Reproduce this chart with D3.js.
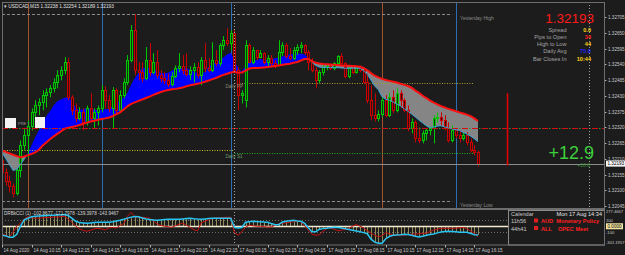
<!DOCTYPE html>
<html>
<head>
<meta charset="utf-8">
<script src="https://cdn.jsdelivr.net/npm/d3@7"></script>
<style>
body { margin: 0; background: #1c1c1c; overflow: hidden; }
text { font-family: "Liberation Sans", Arial, sans-serif; }
.axis-label { font-size: 4.6px; fill: #c8c8c8; }
.info-label { font-size: 5.6px; fill: #a4a4a4; }
.info-value { font-size: 5.6px; font-weight: bold; }
.cal { font-size: 5.6px; }
</style>
</head>
<body>
<svg id="chart" width="625" height="255"></svg>
<script>

// ---- chart data (prices are stored as pips above basePrice) ----
var symbol = "USDCAD,M15";
var quote = ["1.32238", "1.32254", "1.32189", "1.32193"];
var basePrice = 1.32;

var opens = [20.4,16.2,13.4,11.6,9.2,16.9,25.7,29.2,32.6,37.2,
 39.6,40.7,43.2,44.2,45.6,47.7,50.1,51.9,54.7,42.5,
 37.9,35.1,37.2,33.7,38.6,35.1,37.2,38.6,44.9,41.4,
 38.6,44.9,37.9,43.2,47.7,55.4,65.9,51.9,51.2,49.1,
 55.4,51.2,54.7,50.1,49.1,48.4,47.0,49.8,52.6,53.3,
 51.9,50.5,51.9,52.9,50.1,55.4,52.6,51.9,55.4,54.4,
 60.7,62.4,61.4,64.9,51.9,43.2,41.4,60.7,54.7,58.9,
 56.5,57.9,54.7,56.1,54.4,53.6,58.2,60.7,56.8,56.1,
 58.9,60.0,60.7,58.2,54.7,51.9,48.4,51.2,52.9,53.3,
 52.6,54.4,56.8,54.4,49.8,52.6,51.2,52.6,51.9,47.7,
 41.4,36.2,35.1,36.5,41.4,36.2,42.5,37.9,43.9,41.4,
 37.9,31.6,33.7,28.1,27.4,29.9,30.9,31.6,35.1,35.5,
 34.4,31.6,27.4,30.9,29.2,28.1,29.2,26.7,23.9,23.2];

var closes = [16.2,13.4,11.6,9.2,16.9,25.7,29.2,32.6,37.2,39.6,
 40.7,43.2,44.2,45.6,47.7,50.1,51.9,54.7,42.5,37.9,
 35.1,37.2,33.7,38.6,35.1,37.2,38.6,44.9,41.4,38.6,
 44.9,37.9,43.2,47.7,55.4,65.9,51.9,51.2,49.1,55.4,
 51.2,54.7,50.1,49.1,48.4,47.0,49.8,52.6,53.3,51.9,
 50.5,51.9,52.9,50.1,55.4,52.6,51.9,55.4,54.4,60.7,
 62.4,61.4,64.9,51.9,43.2,43.9,60.7,54.7,58.9,56.5,
 57.9,54.7,56.1,54.4,53.6,58.2,60.7,56.8,56.1,58.9,
 60.0,60.7,58.2,54.7,51.9,48.4,51.2,52.9,53.3,52.6,
 54.4,56.8,54.4,49.8,52.6,51.2,52.6,51.9,47.7,41.4,
 36.2,35.1,36.5,41.4,36.2,42.5,37.9,43.9,41.4,37.9,
 31.6,33.7,28.1,27.4,29.9,30.9,31.6,35.1,35.5,34.4,
 31.6,27.4,30.9,29.2,28.1,29.2,26.7,23.9,23.2,19.3];

var highs = [22.2,17.6,15.1,12.4,17.6,27.4,31.6,34.4,38.6,41.4,
 42.1,44.9,45.6,46.7,49.1,51.9,53.3,56.5,56.1,43.2,
 40.3,39.0,38.6,39.6,43.9,38.6,39.6,46.7,46.3,43.2,
 46.0,45.6,44.9,49.1,57.2,67.7,71.5,54.7,54.7,60.0,
 61.4,57.9,58.9,51.9,51.2,50.8,51.2,53.6,57.9,57.2,
 57.9,53.3,54.4,54.7,56.5,61.4,56.1,61.7,58.9,61.4,
 63.8,66.6,65.9,65.9,52.9,44.9,62.4,61.4,60.0,58.9,
 58.9,58.2,57.2,57.2,55.4,62.4,61.7,61.4,59.6,60.0,
 61.0,61.7,61.0,58.9,56.1,52.9,51.9,53.6,54.0,54.0,
 54.7,57.2,57.9,54.7,53.3,52.9,53.3,53.6,52.2,50.8,
 46.7,43.9,37.9,42.5,43.2,43.9,44.9,45.6,44.9,42.1,
 39.6,35.1,34.4,32.0,30.9,31.6,32.3,36.2,37.2,37.2,
 36.2,33.7,32.6,31.6,30.9,30.2,30.2,28.1,25.7,23.9];

var lows = [14.1,11.6,9.2,7.5,8.2,14.5,23.9,21.5,30.9,34.4,
 36.2,37.9,38.9,42.5,44.2,45.6,48.4,50.5,41.4,36.2,
 33.7,34.4,30.9,32.6,33.7,31.6,32.6,37.2,38.6,37.2,
 31.6,36.9,37.2,42.1,46.7,54.7,50.1,48.4,47.7,48.4,
 49.8,50.5,49.1,47.7,47.0,46.0,46.3,49.1,51.2,50.5,
 49.8,48.4,47.7,49.1,46.7,51.2,51.2,51.2,53.3,53.3,
 58.9,60.3,58.9,51.2,37.9,40.3,38.9,54.4,54.0,55.4,
 56.1,54.0,52.9,53.3,52.6,53.3,56.8,56.1,55.4,55.4,
 57.2,57.9,57.2,51.9,51.2,45.6,47.4,50.1,51.9,51.9,
 51.9,53.3,53.3,49.1,49.1,50.5,50.8,51.2,47.0,40.3,
 34.4,34.0,34.0,35.5,35.5,35.5,36.9,37.2,38.6,37.2,
 30.6,29.9,26.7,26.4,26.4,27.4,29.2,26.4,33.7,32.6,
 30.9,26.7,26.7,28.1,26.7,27.4,25.7,23.2,22.2,18.3];

// slow moving average (red line) and fast one (edge of the blue / gray cloud)
var slowMA = [23.9,23.4,22.9,22.4,21.9,21.5,21.8,22.2,22.7,23.2,
 24.1,25.6,26.7,27.8,28.8,29.7,30.6,31.5,31.8,32.1,
 32.4,32.8,33.2,33.6,34.0,34.3,34.6,34.9,35.1,35.4,
 35.9,36.6,37.2,38.2,39.3,40.2,40.7,41.2,41.7,42.2,
 42.7,43.3,43.8,44.3,44.7,45.0,45.3,45.4,45.6,45.9,
 46.3,46.7,46.9,47.2,47.5,47.9,48.3,48.8,49.2,49.8,
 50.3,50.7,51.1,51.4,51.0,51.1,51.8,52.5,52.7,52.7,
 52.8,52.9,53.0,53.2,53.4,53.6,53.8,54.0,54.2,54.5,
 54.8,55.3,55.8,55.8,55.1,54.5,54.3,54.1,54.0,53.9,
 53.8,53.7,53.6,53.5,53.5,53.4,53.3,53.1,52.7,51.9,
 50.9,50.0,49.4,48.9,48.5,48.2,47.9,47.6,47.2,46.8,
 46.4,45.8,44.8,44.0,43.0,42.2,41.3,40.6,40.0,39.4,
 38.9,38.4,38.0,37.6,37.2,36.8,36.4,35.9,35.1,34.2];

var fastMA = [23.2,21.1,19.0,16.9,17.3,19.0,20.8,22.9,25.7,28.5,
 30.9,33.4,35.8,37.6,39.7,41.1,41.8,42.3,42.5,41.1,
 38.6,38.0,38.3,38.6,38.4,38.2,38.0,38.0,38.3,38.5,
 39.4,40.4,41.5,42.5,44.0,46.9,49.2,51.0,52.7,52.8,
 52.7,52.5,51.6,50.9,50.9,51.0,51.7,52.4,52.6,52.6,
 52.6,52.1,51.4,50.9,51.0,51.2,53.1,54.0,54.7,55.4,
 56.4,57.4,58.0,55.4,52.6,51.4,53.5,54.8,55.1,55.5,
 55.8,55.6,55.5,55.7,56.1,56.3,56.7,57.1,57.5,57.6,
 57.8,57.7,57.4,56.4,54.7,53.6,53.0,52.9,52.9,52.9,
 52.8,52.8,52.7,52.6,52.6,52.6,52.6,52.6,51.7,50.5,
 48.5,46.4,45.1,42.6,41.8,41.4,40.8,40.1,39.4,38.5,
 37.6,36.6,35.6,34.5,33.5,32.5,31.7,32.1,32.4,32.5,
 32.1,31.7,31.4,31.1,30.9,30.2,29.6,28.9,28.0,27.0];

// sub window oscillator
var cciSignal = [-138,-155,-176,-176,-128,0,102,128,152,160,
 166,170,173,176,179,182,186,190,170,128,
 80,59,54,48,54,61,64,64,64,64,
 72,86,96,112,131,147,155,152,134,117,
 107,102,96,102,109,112,112,112,112,118,
 125,128,120,115,114,118,123,128,128,128,
 128,128,128,-21,-29,-19,64,72,80,75,
 72,67,64,43,24,26,70,80,90,96,
 86,80,48,-24,-88,-90,-48,-38,-32,-22,
 -16,-21,-29,-40,-53,-64,-75,-88,-102,-120,
 -208,-256,-272,-272,-200,-165,-144,-139,-136,-130,
 -133,-144,-160,-174,-160,-144,-134,-123,-106,-93,
 -86,-82,-85,-90,-96,-96,-98,-115,-136,-139];

var cciFast = [-122,-144,-173,-96,0,56,112,157,136,128,
 131,136,141,144,147,150,154,160,112,61,
 0,-43,-67,-80,-64,-42,-35,-43,-58,-26,
 -21,-29,16,40,160,224,152,144,144,138,
 128,88,40,13,0,-8,-16,8,32,48,
 16,-16,-56,-72,56,80,104,128,133,136,
 141,144,144,-104,-144,-88,-16,16,8,0,
 0,-6,-13,-8,16,42,48,54,64,72,
 83,72,8,-64,-128,-144,-136,-80,-40,-24,
 -48,-72,-64,-48,-32,0,29,0,-24,-72,
 -109,-144,-168,-152,-101,-120,-141,-144,-144,-141,
 -134,-128,-125,-120,-115,-112,-85,-59,-45,-32,
 -32,-32,-32,-32,-24,-19,-40,-72,-109,-172];

var cciTitle = "DRBkCCI (1) -102.8677 -171.7978 -139.3978 -143.9467";
var cciTicks = [277.4667, 100, 0, -100, -301.1957];
var cciTickLabels = ["277.4667", "100", "0.0000", "-100", "-301.1957"];

var priceTicks = ["1.32705","1.32650","1.32595","1.32540","1.32485","1.32430","1.32375",
                  "1.32320","1.32265","1.32210","1.32155","1.32100","1.32045"];

var timeLabels = ["14 Aug 2020","14 Aug 10:15","14 Aug 12:15","14 Aug 14:15","14 Aug 16:15",
                  "14 Aug 18:15","14 Aug 20:15","14 Aug 22:15","17 Aug 00:15","17 Aug 02:15",
                  "17 Aug 04:15","17 Aug 06:15","17 Aug 08:15","17 Aug 10:15","17 Aug 12:15",
                  "17 Aug 14:15","17 Aug 16:15"];

// bars where vertical markers sit
var londonBars = [7, 103];
var sessionBars = [27, 62, 123];
var dayStartBar = 63;
var shiftBar = 159;

// horizontal levels
var yesterdayHigh = 1.32715, yesterdayLow = 1.32062;
var prevPivot = 1.32239, dailyPP = 1.32474, dailyS1 = 1.32229;
var keyLevel = 1.32317;
var bid = 1.32193;
var rangeBar = 137, rangeHigh = 1.32439, rangeLow = 1.32186;

var infoLabels = ["Spread", "Pips to Open", "High to Low", "Daily Avg", "Bar Closes In"];
var infoValues = ["0.0", "34", "44", "75.0", "10:44"];
var bigMove = "+12.9", smallMove = "+10.6";

var calHeader = ["Calendar", "Mon 17 Aug 14:34"];
var calTimes = ["11h56", "44h41"];
var calEvents = ["AUD  Monetary Policy", "ALL    OPEC Meet"];

// ---- drawing ----
var W = 625, H = 255;
var left = 2, right = 604, mainTop = 2, mainBottom = 208, subTop = 210, subBottom = 245;

function pips(p) { return (p - basePrice) * 10000; }

var x = d3.scaleLinear().domain([0, 129]).range([2, 478]);
var y = d3.scaleLinear().domain([4.5, 70.5]).range([206, 17]);
var yc = d3.scaleLinear().domain([-301.1957, 277.4667]).range([subBottom, subTop - 1]);

function px(i) { return Math.round(x(i)) + 0.5; }

var svg = d3.select("#chart");
svg.append("rect").attr("width", W).attr("height", H).attr("fill", "#1c1c1c");

var defs = svg.append("defs");
defs.append("clipPath").attr("id", "clipMain").append("rect")
    .attr("x", left).attr("y", mainTop).attr("width", right - left).attr("height", mainBottom - mainTop);
defs.append("clipPath").attr("id", "clipSub").append("rect")
    .attr("x", left).attr("y", subTop).attr("width", right - left).attr("height", subBottom - subTop);

var idx = d3.range(closes.length);
defs.append("clipPath").attr("id", "clipAbove").append("path")
    .attr("d", d3.area().x(function(i) { return x(i); }).y0(0).y1(function(i) { return y(slowMA[i]); })(idx));
defs.append("clipPath").attr("id", "clipBelow").append("path")
    .attr("d", d3.area().x(function(i) { return x(i); }).y0(function(i) { return y(slowMA[i]); }).y1(H)(idx));

var g = svg.append("g").attr("clip-path", "url(#clipMain)");

// vertical session markers
g.selectAll("line.london").data(londonBars).enter().append("line")
    .attr("x1", px).attr("x2", px).attr("y1", mainTop).attr("y2", mainBottom)
    .attr("stroke", "#a3512c").attr("stroke-width", 1);
g.selectAll("line.session").data(sessionBars).enter().append("line")
    .attr("x1", px).attr("x2", px).attr("y1", mainTop).attr("y2", mainBottom)
    .attr("stroke", "#2d6db3").attr("stroke-width", 1);

// cloud between the two averages
var band = d3.area().x(function(i) { return x(i); })
    .y0(function(i) { return y(slowMA[i]); })
    .y1(function(i) { return y(fastMA[i]); });
g.append("path").attr("d", band(idx)).attr("fill", "#0000ff").attr("clip-path", "url(#clipAbove)");
g.append("path").attr("d", band(idx)).attr("fill", "#858585").attr("clip-path", "url(#clipBelow)");

// levels
function hline(price, x1, x2, color, dash, width) {
  var yy = Math.round(y(pips(price))) + 0.5;
  g.append("line").attr("x1", x1).attr("x2", x2).attr("y1", yy).attr("y2", yy)
    .attr("stroke", color).attr("stroke-width", width || 1).attr("stroke-dasharray", dash);
}
hline(yesterdayHigh, left, x(122), "#8a8a8a", "3,2");
hline(yesterdayLow, left, x(122), "#8a8a8a", "3,2");
hline(prevPivot, left, x(dayStartBar), "#c8c020", "1,1.5");
hline(dailyPP, x(dayStartBar), x(128), "#a8a030", "1,1.5");
hline(dailyS1, x(dayStartBar), x(128), "#20b020", "1,1.5");

// candles
var bull = "#00c800", bear = "#c80000";
var candle = g.selectAll("g.candle").data(idx).enter().append("g").attr("class", "candle");
candle.append("line")
    .attr("x1", px).attr("x2", px)
    .attr("y1", function(i) { return y(highs[i]); })
    .attr("y2", function(i) { return y(lows[i]); })
    .attr("stroke", function(i) { return closes[i] >= opens[i] ? bull : bear; });
candle.append("rect")
    .attr("x", function(i) { return Math.round(x(i)) - 0.5; })
    .attr("y", function(i) { return Math.round(y(Math.max(opens[i], closes[i]))) + 0.5; })
    .attr("width", 2)
    .attr("height", function(i) {
      return Math.max(1, Math.round(y(Math.min(opens[i], closes[i]))) - Math.round(y(Math.max(opens[i], closes[i]))));
    })
    .attr("fill", function(i) { return closes[i] >= opens[i] ? "#0c3a0c" : "#3a0c0c"; })
    .attr("stroke", function(i) { return closes[i] >= opens[i] ? bull : bear; });

// average lines
var fastLine = d3.line().x(function(i) { return x(i); }).y(function(i) { return y(fastMA[i]); });
var slowLine = d3.line().x(function(i) { return x(i); }).y(function(i) { return y(slowMA[i]); });
g.append("path").attr("d", fastLine(idx)).attr("fill", "none")
    .attr("stroke", "#3aa6d8").attr("stroke-width", 1).attr("clip-path", "url(#clipBelow)");
g.append("path").attr("d", slowLine(idx)).attr("fill", "none")
    .attr("stroke", "#ff1010").attr("stroke-width", 2);

// key level red / green dash-dot
hline(keyLevel, left, right, "#d01010", "6,4", 1.2);
hline(keyLevel, left + 7, right, "#30a030", "1.5,8.5", 1.2);

// bid line
hline(bid, left, right, "#8c8c8c", null, 1);

// red range bar in the future area
g.append("line").attr("x1", x(rangeBar)).attr("x2", x(rangeBar))
    .attr("y1", y(pips(rangeHigh))).attr("y2", y(pips(rangeLow)))
    .attr("stroke", "#e00000").attr("stroke-width", 1.6);

// level names
g.append("text").attr("x", 460).attr("y", y(pips(yesterdayHigh)) + 5.5)
    .attr("font-size", 5).attr("fill", "#8a8a8a").text("Yesterday High");
g.append("text").attr("x", 460).attr("y", y(pips(yesterdayLow)) + 5.5)
    .attr("font-size", 5).attr("fill", "#8a8a8a").text("Yesterday Low");
g.append("text").attr("x", x(dayStartBar) - 9).attr("y", y(pips(dailyPP)) + 4.8)
    .attr("font-size", 4.6).attr("fill", "#8a8a70").text("Daily PP");
g.append("text").attr("x", x(dayStartBar) - 9).attr("y", y(pips(dailyS1)) + 4.8)
    .attr("font-size", 4.6).attr("fill", "#6a9a6a").text("Daily S1");

// widgets on the left
g.append("rect").attr("x", 5).attr("y", 118).attr("width", 11).attr("height", 10).attr("fill", "#f4f4f4");
g.append("rect").attr("x", 35).attr("y", 117).attr("width", 10).attr("height", 11).attr("fill", "#f4f4f4");
g.append("text").attr("x", 18).attr("y", 125).attr("font-size", 4).attr("fill", "#9a9a9a").text("PRE ≡");

// dotted separators through both windows
[dayStartBar, shiftBar].forEach(function(b) {
  svg.append("line").attr("x1", px(b)).attr("x2", px(b)).attr("y1", mainTop).attr("y2", subBottom)
    .attr("stroke", "#a0a0a0").attr("stroke-dasharray", "1,2");
});

// info panel
svg.append("text").attr("x", 4).attr("y", 7.5).attr("font-size", 4.8).attr("fill", "#e0e0e0")
    .text("▾ " + symbol + "  " + quote.join(" "));
svg.append("text").attr("x", 594).attr("y", 23).attr("text-anchor", "end")
    .attr("font-size", 13.5).attr("fill", "#ff1a1a").text(quote[3]);
var valueColors = ["#ffd21a", "#ff2020", "#ffd21a", "#2222ff", "#ffd21a"];
infoLabels.forEach(function(t, k) {
  svg.append("text").attr("class", "info-label").attr("x", 566.5).attr("y", 31.5 + k * 7.3)
    .attr("text-anchor", "end").text(t);
  svg.append("text").attr("class", "info-value").attr("x", 591).attr("y", 31.5 + k * 7.3)
    .attr("text-anchor", "end").attr("fill", valueColors[k]).text(infoValues[k]);
});
svg.append("text").attr("x", 594).attr("y", 158.5).attr("text-anchor", "end")
    .attr("font-size", 18).attr("fill", "#3ccf3c").text(bigMove);
svg.append("text").attr("x", 590).attr("y", 167).attr("text-anchor", "end")
    .attr("font-size", 5).attr("fill", "#2e9a2e").text(smallMove);

// price axis
priceTicks.forEach(function(t) {
  var yy = Math.round(y(pips(+t))) + 0.5;
  svg.append("line").attr("x1", right).attr("x2", right + 2.5).attr("y1", yy).attr("y2", yy).attr("stroke", "#b0b0b0");
  svg.append("text").attr("class", "axis-label").attr("x", 608).attr("y", yy + 1.7).text(t);
});
var by = y(pips(bid));
svg.append("rect").attr("x", 606).attr("y", by - 3).attr("width", 19).attr("height", 6).attr("fill", "#f4f4f4");
svg.append("text").attr("x", 607.5).attr("y", by + 1.7).attr("font-size", 4.6).attr("fill", "#000").text(quote[3]);

// sub window
var s = svg.append("g").attr("clip-path", "url(#clipSub)");
[100, -100].forEach(function(v) {
  var yy = Math.round(yc(v)) + 0.5;
  s.append("line").attr("x1", left).attr("x2", right).attr("y1", yy).attr("y2", yy)
    .attr("stroke", "#6a6a6a").attr("stroke-dasharray", "1,2");
});
s.selectAll("line.hist").data(idx).enter().append("line")
    .attr("x1", px).attr("x2", px)
    .attr("y1", yc(0)).attr("y2", function(i) { return yc(cciSignal[i]); })
    .attr("stroke", "#b4a868").attr("stroke-width", 0.8);
s.append("line").attr("x1", left).attr("x2", right).attr("y1", Math.round(yc(0)) + 0.5).attr("y2", Math.round(yc(0)) + 0.5)
    .attr("stroke", "#f2ead0").attr("stroke-width", 1.3);
s.append("path").attr("d", d3.line().x(function(i) { return x(i); }).y(function(i) { return yc(cciFast[i]); })(idx))
    .attr("fill", "none").attr("stroke", "#c81010").attr("stroke-width", 1);
s.append("path").attr("d", d3.line().x(function(i) { return x(i); }).y(function(i) { return yc(cciSignal[i]); })(idx))
    .attr("fill", "none").attr("stroke", "#28c4f2").attr("stroke-width", 1.5);
svg.append("text").attr("x", 4).attr("y", 215).attr("font-size", 4.6).attr("fill", "#d8d8d8").text(cciTitle);

cciTicks.forEach(function(v, k) {
  var yy = yc(v);
  if (k === 0) yy += 2.5;
  if (k === cciTicks.length - 1) yy -= 2.5;
  if (v === 0) {
    svg.append("rect").attr("x", 606).attr("y", yy - 3).attr("width", 17).attr("height", 6)
      .attr("fill", "#f3e4a0");
    svg.append("text").attr("x", 607.5).attr("y", yy + 1.7).attr("font-size", 4.6).attr("fill", "#000")
      .text(cciTickLabels[k]);
  } else {
    svg.append("text").attr("x", 606).attr("y", yy + 1.6)
      .attr("font-size", 4.1).attr("fill", "#c8c8c8").text(cciTickLabels[k]);
  }
});

// calendar box
var cal = svg.append("g");
cal.append("rect").attr("x", 508.5).attr("y", 210.5).attr("width", 96).attr("height", 34.5)
    .attr("fill", "#1c1c1c").attr("stroke", "#8a8a8a");
cal.append("text").attr("class", "cal").attr("x", 511).attr("y", 216).attr("fill", "#c8c8c8").text(calHeader[0]);
cal.append("text").attr("class", "cal").attr("x", 602).attr("y", 216).attr("text-anchor", "end")
    .attr("fill", "#e6e6e6").text(calHeader[1]);
calTimes.forEach(function(t, k) {
  var yy = 223 + k * 7.5;
  cal.append("text").attr("class", "cal").attr("x", 511).attr("y", yy).attr("fill", "#c8c8c8").text(t);
  cal.append("rect").attr("x", 534).attr("y", yy - 4.5).attr("width", 4).attr("height", 4).attr("fill", "#e02020");
  cal.append("text").attr("class", "cal").attr("x", 541).attr("y", yy).attr("fill", "#ff2020")
    .attr("font-weight", "bold").attr("xml:space", "preserve").text(calEvents[k]);
});

// panel frames
svg.append("rect").attr("x", left + 0.5).attr("y", mainTop + 0.5).attr("width", right - left).attr("height", mainBottom - mainTop)
    .attr("fill", "none").attr("stroke", "#6e6e6e");
svg.append("rect").attr("x", left + 0.5).attr("y", subTop - 0.5).attr("width", right - left).attr("height", subBottom - subTop + 0.5)
    .attr("fill", "none").attr("stroke", "#6e6e6e");

// time axis
timeLabels.forEach(function(t, k) {
  var xx = px(k * 8);
  svg.append("line").attr("x1", xx).attr("x2", xx).attr("y1", subBottom).attr("y2", subBottom + 2.5).attr("stroke", "#b0b0b0");
  svg.append("text").attr("class", "axis-label").attr("x", xx + 1).attr("y", 252).text(t);
});

</script>
</body>
</html>
